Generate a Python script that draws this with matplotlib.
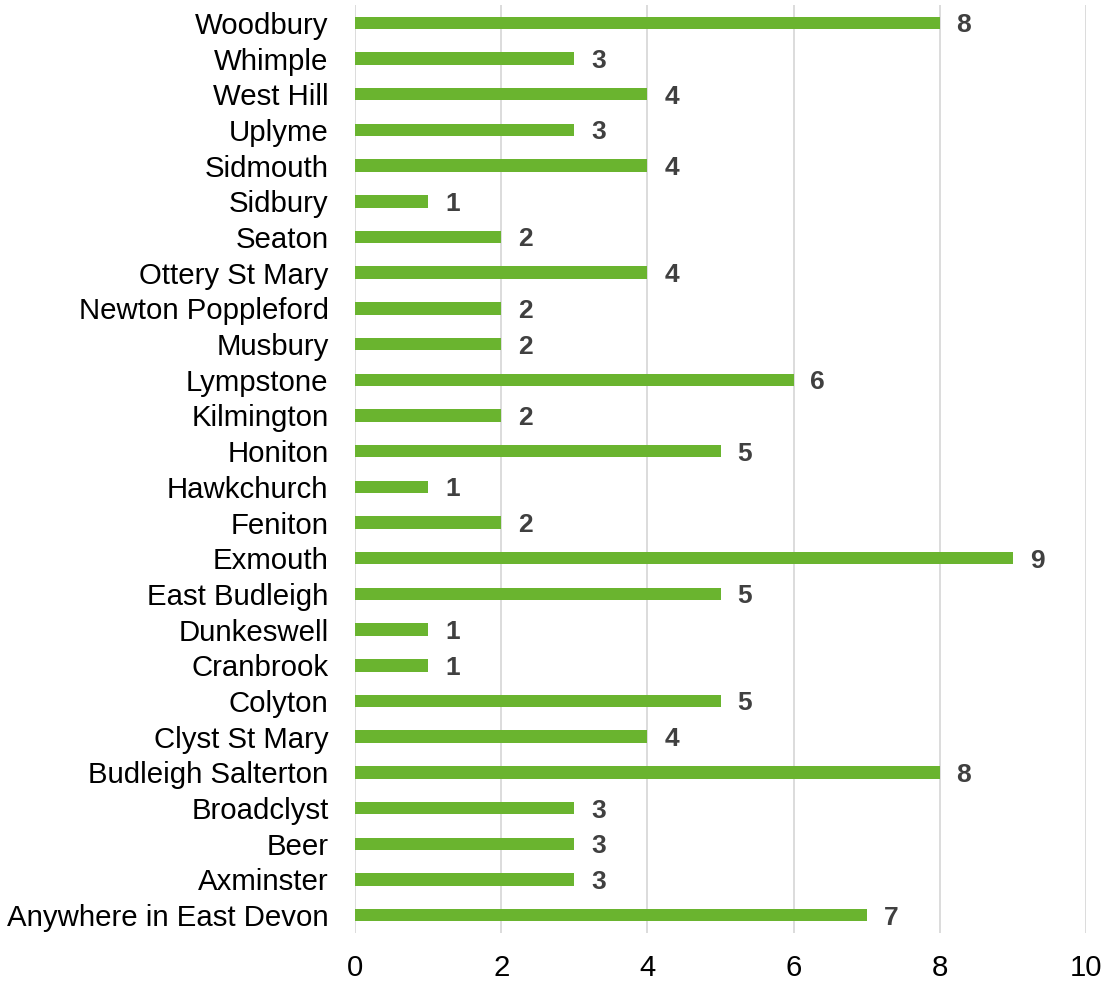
import matplotlib
matplotlib.use("Agg")
import matplotlib.pyplot as plt

categories = ["Woodbury", "Whimple", "West Hill", "Uplyme", "Sidmouth", "Sidbury", "Seaton",
              "Ottery St Mary", "Newton Poppleford", "Musbury", "Lympstone", "Kilmington",
              "Honiton", "Hawkchurch", "Feniton", "Exmouth", "East Budleigh", "Dunkeswell",
              "Cranbrook", "Colyton", "Clyst St Mary", "Budleigh Salterton", "Broadclyst",
              "Beer", "Axminster", "Anywhere in East Devon"]
values = [8, 3, 4, 3, 4, 1, 2, 4, 2, 2, 6, 2, 5, 1, 2, 9, 5, 1, 1, 5, 4, 8, 3, 3, 3, 7]
xticks = [0, 2, 4, 6, 8, 10]

plt.rcParams['font.family'] = ['Liberation Sans', 'DejaVu Sans']

fig = plt.figure(figsize=(11.04, 9.81), dpi=100)
ax = fig.add_axes([355/1104, 1-933/981, (1086-355)/1104, (933-5)/981])

n = len(categories)
ypos = list(range(n))
ax.barh(ypos, values, height=0.35, color="#6AB42F", zorder=3)
for y, v in zip(ypos, values):
    ax.text(v + 0.23, y, str(v), va="center_baseline", ha="left", fontsize=19, fontweight="bold",
            color="#404040")

ax.set_xlim(0, 10)
ax.set_ylim(n - 0.5, -0.5)
ax.set_yticks(ypos)
ax.set_yticklabels(categories, fontsize=21.2, color="black")
ax.set_xticks(xticks)
ax.set_xticklabels([str(t) for t in xticks], fontsize=21.2, color="black")
ax.tick_params(axis="both", length=0)
ax.tick_params(axis="y", pad=19)
ax.tick_params(axis="x", pad=15)
ax.grid(axis="x", color="#D9D9D9", linewidth=1.3, zorder=0)
for s in ax.spines.values():
    s.set_visible(False)

fig.savefig("out.png", dpi=100)
